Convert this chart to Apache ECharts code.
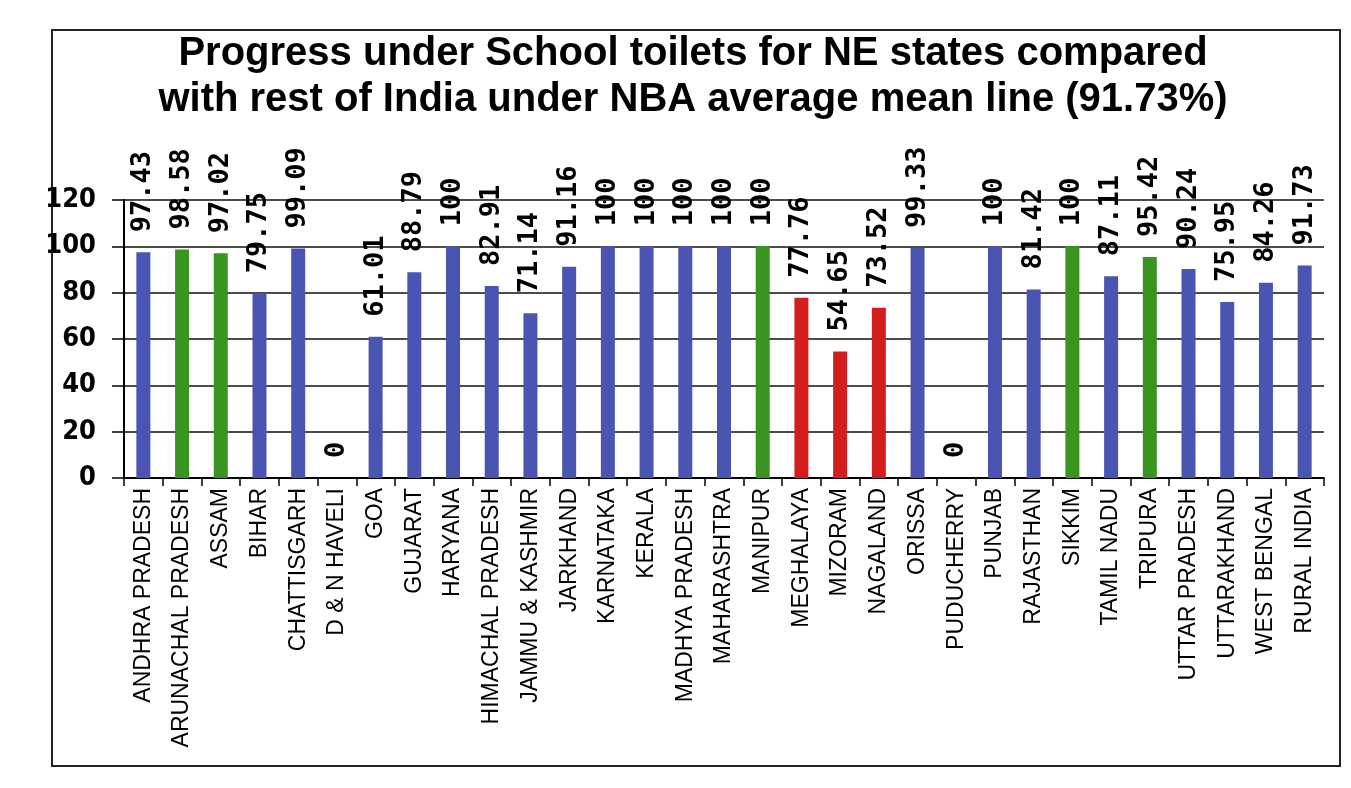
<!DOCTYPE html>
<html><head><meta charset="utf-8">
<script src="https://cdn.jsdelivr.net/npm/echarts@6/dist/echarts.min.js"></script>
<style>html,body{margin:0;padding:0;background:#fff}#c{width:1351px;height:788px}</style>
</head><body><div id="c"></div>
<script>
const categories = ["ANDHRA PRADESH","ARUNACHAL PRADESH","ASSAM","BIHAR","CHATTISGARH","D & N HAVELI","GOA","GUJARAT","HARYANA","HIMACHAL PRADESH","JAMMU & KASHMIR","JARKHAND","KARNATAKA","KERALA","MADHYA PRADESH","MAHARASHTRA","MANIPUR","MEGHALAYA","MIZORAM","NAGALAND","ORISSA","PUDUCHERRY","PUNJAB","RAJASTHAN","SIKKIM","TAMIL NADU","TRIPURA","UTTAR PRADESH","UTTARAKHAND","WEST BENGAL","RURAL INDIA"];
const values = [97.43,98.58,97.02,79.75,99.09,0,61.01,88.79,100,82.91,71.14,91.16,100,100,100,100,100,77.76,54.65,73.52,99.33,0,100,81.42,100,87.11,95.42,90.24,75.95,84.26,91.73];
const neAhead = ["ARUNACHAL PRADESH","ASSAM","MANIPUR","SIKKIM","TRIPURA"];
const neBehind = ["MEGHALAYA","MIZORAM","NAGALAND"];
const yTicks = [0,20,40,60,80,100,120];
const titleLines = ["Progress under School toilets for NE states compared","with rest of India under NBA average mean line (91.73%)"];

const BLUE = "#4A54B2", GREEN = "#3A9420", RED = "#D41E1E";
const chart = echarts.init(document.getElementById('c'));
chart.setOption({
  backgroundColor: '#fff',
  animation: false,
  title: {
    text: titleLines.join('\n'),
    left: 688, top: 26, textAlign: 'center',
    textStyle: {fontFamily: 'Liberation Sans, Arial', fontWeight: 'bold', fontSize: 40, lineHeight: 46, color: '#000'}
  },
  graphic: [{type: 'rect', shape: {x: 52, y: 30, width: 1288, height: 736}, style: {fill: 'none', stroke: '#222', lineWidth: 2}, silent: true}],
  grid: {left: 124, right: 27, top: 200, bottom: 310, containLabel: false},
  xAxis: {
    type: 'category', data: categories,
    axisLine: {show: true, lineStyle: {color: '#000', width: 2}},
    axisTick: {show: true, alignWithLabel: false, length: 8, lineStyle: {color: '#000', width: 1.5}},
    axisLabel: {rotate: 90, interval: 0, margin: 10, fontFamily: 'Liberation Sans, Arial', fontSize: 23, color: '#000'}
  },
  yAxis: {
    type: 'value', min: yTicks[0], max: yTicks[yTicks.length-1], interval: yTicks[1]-yTicks[0],
    axisLine: {show: true, lineStyle: {color: '#000', width: 2}},
    axisTick: {show: true, length: 12, lineStyle: {color: '#000', width: 1.5}},
    splitLine: {show: true, lineStyle: {color: '#111', width: 1.5}},
    axisLabel: {margin: 28, fontFamily: 'DejaVu Sans Condensed', fontWeight: 'bold', fontSize: 27, color: '#000'}
  },
  series: [{
    type: 'bar', barWidth: 14,
    data: categories.map((c, i) => ({
      value: values[i],
      itemStyle: {color: neAhead.includes(c) ? GREEN : (neBehind.includes(c) ? RED : BLUE)}
    })),
    label: {
      show: true, position: 'top', rotate: 90, align: 'left', verticalAlign: 'middle', distance: 20,
      fontFamily: 'DejaVu Sans Mono', fontWeight: 'bold', fontSize: 27, color: '#000',
      formatter: p => String(p.value)
    }
  }]
});
</script></body></html>
